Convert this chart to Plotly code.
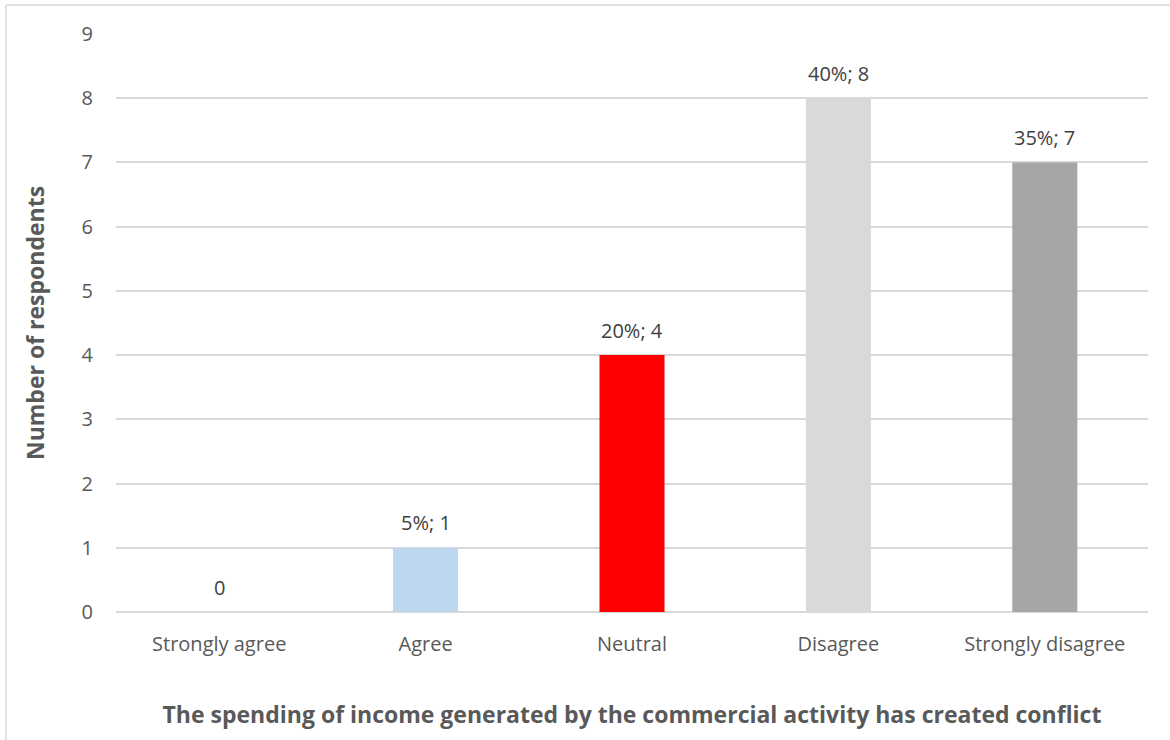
import plotly.graph_objects as go

categories = ["Strongly agree", "Agree", "Neutral", "Disagree", "Strongly disagree"]
respondents = [0, 1, 4, 8, 7]
bar_colors = ["#BDD7EE", "#BDD7EE", "#FF0000", "#D9D9D9", "#A6A6A6"]

total = sum(respondents)
labels = [f"{round(v / total * 100)}%; {v}" if v > 0 else "0" for v in respondents]

W, H = 1170, 740
ml, mr, mt, mb = 116, 22, 34, 128

fig = go.Figure(
    go.Bar(
        x=categories,
        y=respondents,
        marker=dict(color=bar_colors, line=dict(width=0)),
        hoverinfo="x+y",
    )
)

# value labels above each bar
for cat, val, lab in zip(categories, respondents, labels):
    fig.add_annotation(
        x=cat, y=val, text=lab, showarrow=False,
        yanchor="middle", yshift=25,
        font=dict(family="Open Sans", size=20, color="#404040"),
    )

fig.update_layout(
    width=W,
    height=H,
    margin=dict(l=ml, r=mr, t=mt, b=mb),
    paper_bgcolor="white",
    plot_bgcolor="white",
    bargap=0.685,
    showlegend=False,
    font=dict(family="Open Sans", color="#595959"),
    xaxis=dict(
        showline=False,
        ticks="",
        ticklabelstandoff=18,
        tickfont=dict(size=20, color="#595959"),
        title=dict(
            text="<b>The spending of income generated by the commercial activity has created conflict</b>",
            font=dict(size=23, color="#595959"),
            standoff=50,
        ),
    ),
    yaxis=dict(
        range=[0, 9],
        dtick=1,
        showgrid=True,
        gridcolor="#D9D9D9",
        gridwidth=1.5,
        zeroline=True,
        zerolinecolor="#D9D9D9",
        zerolinewidth=1.5,
        showline=False,
        ticks="",
        ticklabelstandoff=22,
        tickfont=dict(size=20, color="#595959"),
        title=dict(
            text="<b>Number of respondents</b>",
            font=dict(size=23, color="#595959"),
            standoff=30,
        ),
    ),
)

# chart frame (left and top edges)
x0 = (6 - ml) / (W - ml - mr)
y1 = (H - mb - 5) / (H - mt - mb)
fig.add_shape(type="line", xref="paper", yref="paper", x0=x0, x1=1.2, y0=y1, y1=y1,
              line=dict(color="#D9D9D9", width=1.5))
fig.add_shape(type="line", xref="paper", yref="paper", x0=x0, x1=x0, y0=y1, y1=-0.5,
              line=dict(color="#D9D9D9", width=1.5))

fig.write_html("out.html")
